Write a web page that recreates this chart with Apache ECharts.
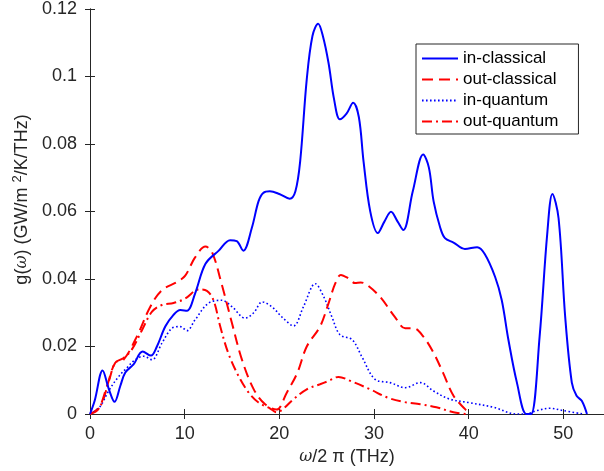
<!DOCTYPE html>
<html>
<head>
<meta charset="utf-8">
<script src="https://cdn.jsdelivr.net/npm/echarts@6/dist/echarts.min.js"></script>
<style>html,body{margin:0;padding:0;background:#fff;}#c{width:604px;height:471px;}</style>
</head>
<body>
<div id="c"></div>
<script>
const seriesNames = ['in-classical', 'out-classical', 'in-quantum', 'out-quantum'];
const xTicks = [0, 10, 20, 30, 40, 50];
const yTicks = [0, 0.02, 0.04, 0.06, 0.08, 0.1, 0.12];

const inClassicalX = [0, 0.5, 1.33, 2.0, 2.6, 3.2, 3.73, 4.6, 5.56, 6.44, 7.07, 7.95, 8.8, 9.54, 10.24, 11.1, 12.2, 13.6, 14.8, 15.5, 16.2, 17.1, 17.8, 18.3, 19.0, 20.0, 21.1, 21.7, 22.2, 22.9, 23.5, 24.1, 24.6, 25.2, 25.8, 26.4, 27.1, 27.8, 28.4, 28.9, 29.6, 30.4, 31.1, 31.8, 32.5, 33.1, 34.1, 35.2, 35.8, 36.3, 37.0, 37.5, 38.4, 39.6, 40.9, 41.7, 42.8, 43.5, 44.2, 45.1, 46.1, 46.6, 47.5, 48.3, 48.85, 49.5, 50.2, 50.9, 51.4, 51.95, 52.5];
const inClassicalY = [0, 0.004, 0.0129, 0.0073, 0.0036, 0.0083, 0.0123, 0.0147, 0.0185, 0.0173, 0.020, 0.0259, 0.0293, 0.0308, 0.0306, 0.0357, 0.0445, 0.0484, 0.0515, 0.0512, 0.0484, 0.0552, 0.063, 0.0655, 0.066, 0.0652, 0.0638, 0.066, 0.0748, 0.0992, 0.112, 0.1156, 0.112, 0.104, 0.093, 0.0873, 0.089, 0.0922, 0.088, 0.0748, 0.0601, 0.0536, 0.057, 0.0599, 0.057, 0.0545, 0.066, 0.0769, 0.073, 0.063, 0.0552, 0.0521, 0.0508, 0.0489, 0.0494, 0.0474, 0.0406, 0.0337, 0.022, 0.0093, 0, 0, 0.023, 0.0533, 0.0652, 0.058, 0.0288, 0.0093, 0.0054, 0.0039, 0];

const outClassicalX = [0, 0.9, 1.8, 2.67, 3.55, 4.96, 6.37, 7.6, 9.2, 10.06, 11.1, 12.2, 12.9, 13.9, 15.0, 16.05, 17.3, 18.5, 19.7, 20.8, 21.9, 22.9, 24.3, 25.2, 25.9, 26.5, 27.3, 28.0, 28.6, 29.25, 30.65, 32.2, 33.3, 34.2, 35.2, 36.3, 37.3, 38.4, 39.6, 40.0];
const outClassicalY = [0, 0.0015, 0.0083, 0.0152, 0.0161, 0.023, 0.0318, 0.0367, 0.0391, 0.041, 0.0464, 0.0496, 0.0479, 0.0386, 0.0269, 0.0161, 0.0073, 0.0029, 0.0013, 0.0064, 0.0122, 0.020, 0.0259, 0.0328, 0.0386, 0.0412, 0.0402, 0.0388, 0.039, 0.0383, 0.0347, 0.0288, 0.0254, 0.0254, 0.023, 0.0181, 0.0122, 0.0054, 0.0015, 0.0005];

const inQuantumX = [0, 1.0, 2.0, 3.0, 3.9, 4.8, 5.66, 6.55, 7.6, 8.66, 9.54, 10.24, 11.1, 12.5, 13.9, 15.0, 16.4, 17.3, 18.2, 19.2, 20.4, 21.5, 22.55, 23.8, 24.7, 25.55, 26.4, 27.7, 28.7, 30.1, 31.7, 33.3, 34.9, 36.3, 38.0, 40.0, 42.6, 45.1, 46.0, 47.2, 48.6, 50.0, 52.1];
const inQuantumY = [0, 0.002, 0.007, 0.011, 0.0137, 0.0161, 0.0171, 0.0161, 0.021, 0.0254, 0.0259, 0.0247, 0.0279, 0.0328, 0.0337, 0.0318, 0.0284, 0.030, 0.0332, 0.0318, 0.0284, 0.0261, 0.0318, 0.0386, 0.0347, 0.0288, 0.0235, 0.022, 0.0171, 0.0103, 0.0093, 0.0078, 0.0093, 0.0068, 0.0044, 0.0034, 0.002, 0, 0, 0.001, 0.0017, 0.001, 0];

const outQuantumX = [0, 1.1, 2.0, 2.67, 3.55, 4.4, 5.5, 6.55, 7.6, 8.83, 10.06, 11.5, 12.35, 13.05, 13.76, 14.6, 15.7, 16.75, 17.8, 19.0, 19.7, 20.4, 21.5, 22.9, 24.3, 25.2, 26.25, 27.5, 29.6, 31.4, 33.1, 34.9, 36.6, 38.4, 39.8];
const outQuantumY = [0, 0.0024, 0.0098, 0.0152, 0.0166, 0.019, 0.0249, 0.0303, 0.0323, 0.0329, 0.0342, 0.0369, 0.0365, 0.0337, 0.0259, 0.0181, 0.0112, 0.0064, 0.0034, 0.0017, 0.0005, 0.0015, 0.0044, 0.0073, 0.0088, 0.0098, 0.011, 0.0098, 0.0073, 0.0049, 0.0036, 0.0029, 0.002, 0.0005, 0];

function pairs(xs, ys) { return xs.map((x, i) => [x, ys[i]]); }

const axisColor = '#262626';
const font = 'Liberation Sans, Arial, Helvetica, sans-serif';

const chart = echarts.init(document.getElementById('c'), null, {renderer: 'canvas'});

const baseX = {
  type: 'value', min: xTicks[0], max: 54.3, interval: 10,
  axisLine: {show: true, lineStyle: {color: axisColor, width: 1}},
  axisTick: {show: true, inside: true, length: 5, lineStyle: {color: axisColor}},
  splitLine: {show: false}
};
const baseY = {
  type: 'value', min: yTicks[0], max: yTicks[yTicks.length - 1], interval: 0.02,
  axisLine: {show: true, lineStyle: {color: axisColor, width: 1}},
  axisTick: {show: true, inside: true, length: 5, lineStyle: {color: axisColor}},
  splitLine: {show: false}
};

const lineStyles = [
  {color: '#0000ff', width: 2, type: 'solid'},
  {color: '#ff0000', width: 2, type: [11, 6]},
  {color: '#0000ff', width: 1.6, type: [1.6, 2.4]},
  {color: '#ff0000', width: 2, type: [10, 4, 2, 4]}
];
const dataSets = [
  pairs(inClassicalX, inClassicalY),
  pairs(outClassicalX, outClassicalY),
  pairs(inQuantumX, inQuantumY),
  pairs(outQuantumX, outQuantumY)
];

chart.setOption({
  animation: false,
  backgroundColor: '#ffffff',
  grid: {left: 90, right: 0, top: 6, bottom: 56, containLabel: false},
  legend: {
    orient: 'vertical', left: 416, top: 44,
    data: seriesNames,
    itemWidth: 36, itemHeight: 14, itemGap: 4,
    padding: [6, 20, 4, 5],
    borderColor: axisColor, borderWidth: 1, backgroundColor: '#ffffff',
    itemStyle: {opacity: 0},
    textStyle: {fontFamily: font, fontSize: 17, color: '#000000'}
  },
  xAxis: [
    Object.assign({}, baseX, {
      position: 'bottom',
      axisLabel: {show: true, margin: 11, fontFamily: font, fontSize: 18, color: axisColor, showMaxLabel: false},
      name: '{i|ω}/2 π (THz)', nameLocation: 'middle', nameGap: 34,
      nameTextStyle: {fontFamily: font, fontSize: 18, color: axisColor,
        rich: {i: {fontStyle: 'italic', fontFamily: 'DejaVu Serif', fontSize: 16, color: axisColor}}}
    }),
    Object.assign({}, baseX, {position: 'top', axisLabel: {show: false}})
  ],
  yAxis: [
    Object.assign({}, baseY, {
      position: 'left',
      axisLabel: {show: true, margin: 13, fontFamily: font, fontSize: 18, color: axisColor},
      name: 'g({i|ω}) (GW/m {sup|2}/K/THz)', nameLocation: 'middle', nameGap: 47,
      nameTextStyle: {fontFamily: font, fontSize: 18, color: axisColor, padding: [0, 0, 0, 24],
        rich: {
          i: {fontStyle: 'italic', fontFamily: 'DejaVu Serif', fontSize: 16, color: axisColor},
          sup: {fontSize: 13, fontFamily: font, color: axisColor, padding: [0, 0, 9, 0]}
        }}
    }),
    Object.assign({}, baseY, {position: 'right', axisLabel: {show: false}})
  ],
  series: seriesNames.map((n, i) => ({
    name: n, type: 'line', xAxisIndex: 0, yAxisIndex: 0,
    data: dataSets[i], symbol: 'none', showSymbol: false, smooth: 0.35,
    lineStyle: lineStyles[i], itemStyle: {color: lineStyles[i].color},
    z: 4 - i, clip: true
  }))
});
</script>
</body>
</html>
